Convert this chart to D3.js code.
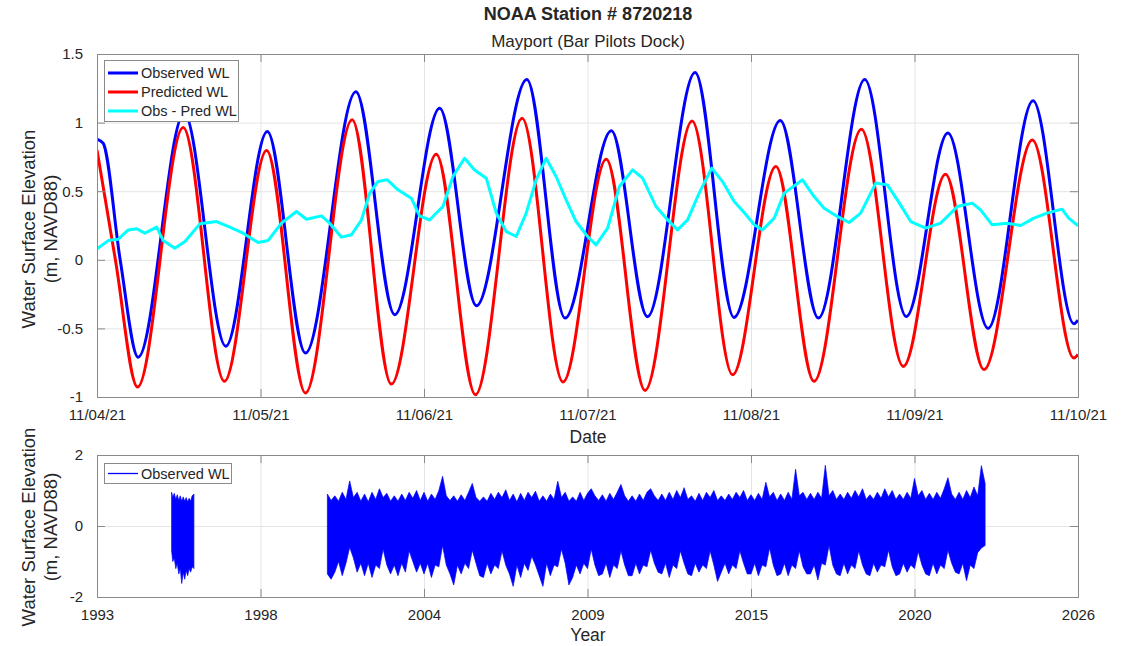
<!DOCTYPE html>
<html><head><meta charset="utf-8">
<script src="https://cdn.jsdelivr.net/npm/d3@7"></script>
<style>
body{margin:0;background:#fff}
svg{display:block}
text{font-family:"Liberation Sans",Arial,Helvetica,sans-serif;fill:#262626}
</style>
</head><body>
<svg id="c" width="1133" height="646"></svg>
<script>
// ---------------- DATA ----------------
// Top panel: hours since 11/04/21 00:00
const obsHours  = [0, 0.9, 3.4, 6.05, 12.8, 18.9, 25.0, 30.6, 38.0, 43.7, 50.3, 55.7, 63.1, 68.7, 75.5, 80.8, 87.8, 93.5, 100.3, 105.9, 112.7, 118.8, 124.9, 130.8, 137.4, 143.4, 144];
const obsValues = [0.88, 0.85, 0.0, -0.71, 1.07, -0.63, 0.935, -0.68, 1.225, -0.40, 1.105, -0.335, 1.315, -0.425, 0.94, -0.415, 1.365, -0.42, 1.015, -0.425, 1.315, -0.413, 0.925, -0.50, 1.16, -0.466, -0.44];

const predHours  = [0, 2.7, 5.95, 12.65, 18.7, 24.9, 30.6, 37.45, 43.2, 49.8, 55.55, 62.4, 68.4, 74.75, 80.45, 87.35, 93.3, 99.65, 105.25, 112.2, 118.35, 124.55, 130.2, 137.3, 143.4, 144];
const predValues = [0.80, 0.0, -0.927, 0.964, -0.886, 0.796, -0.971, 1.02, -0.906, 0.77, -0.983, 1.032, -0.891, 0.733, -0.952, 1.012, -0.838, 0.68, -0.886, 0.952, -0.777, 0.624, -0.80, 0.874, -0.716, -0.69];

const resHours  = [0, 1.66, 3.12, 4.58, 5.81, 7.03, 8.76, 9.72, 11.42, 12.91, 15.1, 17.54, 19.25, 21.46, 23.64, 25.13, 27.07, 29.28, 30.74, 32.95, 34.15, 35.88, 37.34, 38.81, 40.03, 41.23, 42.62, 44.18, 46.13, 47.35, 48.82, 49.56, 50.78, 52.25, 53.95, 55.42, 57.14, 58.61, 60.07, 61.54, 63.0, 64.46, 65.93, 67.39, 68.86, 70.32, 72.02, 73.25, 74.95, 76.68, 78.62, 80.09, 82.06, 83.52, 85.22, 86.69, 88.39, 90.24, 91.82, 93.53, 94.99, 96.48, 97.68, 99.41, 100.87, 103.56, 105.26, 106.73, 108.67, 110.4, 112.1, 114.31, 116.02, 117.48, 119.45, 121.63, 123.84, 126.29, 128.47, 129.7, 131.4, 133.61, 135.58, 137.52, 139.46, 141.65, 142.63, 144];
const resValues = [0.08, 0.14, 0.15, 0.218, 0.226, 0.194, 0.238, 0.14, 0.085, 0.133, 0.262, 0.279, 0.243, 0.194, 0.126, 0.141, 0.267, 0.352, 0.296, 0.32, 0.267, 0.165, 0.182, 0.29, 0.486, 0.57, 0.583, 0.51, 0.449, 0.32, 0.29, 0.328, 0.388, 0.607, 0.74, 0.655, 0.595, 0.34, 0.206, 0.17, 0.34, 0.583, 0.74, 0.607, 0.437, 0.279, 0.17, 0.109, 0.231, 0.534, 0.655, 0.595, 0.388, 0.304, 0.218, 0.291, 0.486, 0.668, 0.57, 0.425, 0.345, 0.255, 0.218, 0.304, 0.486, 0.583, 0.461, 0.376, 0.316, 0.272, 0.34, 0.559, 0.546, 0.437, 0.279, 0.231, 0.267, 0.388, 0.413, 0.364, 0.255, 0.267, 0.25, 0.304, 0.34, 0.369, 0.304, 0.248];

const topYTicks = [-1, -0.5, 0, 0.5, 1, 1.5];
const topYLabels = ["-1", "-0.5", "0", "0.5", "1", "1.5"];
const legendTop = ["Observed WL", "Predicted WL", "Obs - Pred WL"];

// Bottom panel: long record envelope of observed WL (decimal years)
const seg1Years = [1995.51, 1995.55, 1995.60, 1995.65, 1995.70, 1995.75, 1995.80, 1995.85, 1995.90, 1995.95, 1996.00, 1996.05, 1996.10, 1996.15, 1996.20, 1996.26];
const seg1Upper = [0.95, 0.80, 0.92, 0.75, 0.88, 0.72, 0.85, 0.70, 0.82, 0.70, 0.80, 0.68, 0.78, 0.70, 0.85, 0.90];
const seg1Lower = [-0.70, -1.00, -0.90, -1.20, -1.05, -1.35, -1.20, -1.62, -1.30, -1.50, -1.25, -1.40, -1.20, -1.30, -1.15, -1.20];

const seg2Start = 2000.75, seg2Step = 0.125;
const seg2Upper = [
 0.90, 0.72,
 0.85, 0.70, 0.95, 0.75, 1.27, 0.80, 0.95, 0.70,
 0.90, 0.68, 0.95, 0.75, 1.05, 0.80, 0.92, 0.70,
 0.85, 0.70, 0.90, 0.72, 0.95, 0.78, 1.00, 0.72,
 0.95, 0.70, 0.90, 0.75, 1.00, 1.40, 0.85, 0.72,
 0.85, 0.70, 0.88, 0.72, 0.95, 1.20, 0.80, 0.70,
 0.82, 0.70, 0.92, 0.75, 0.95, 0.80, 1.02, 0.72,
 0.90, 0.68, 0.92, 0.72, 0.95, 0.80, 0.98, 0.70,
 0.85, 0.70, 0.90, 0.75, 1.26, 0.80, 0.95, 0.70,
 0.82, 0.70, 0.95, 0.72, 0.92, 1.05, 0.85, 0.72,
 0.88, 0.70, 0.92, 0.75, 0.95, 1.17, 0.85, 0.70,
 0.85, 0.70, 0.90, 0.72, 0.95, 1.05, 0.85, 0.72,
 0.90, 0.72, 0.95, 0.75, 1.00, 0.80, 1.08, 0.75,
 0.85, 0.70, 0.92, 0.72, 0.95, 0.80, 1.00, 0.72,
 0.85, 0.72, 0.90, 0.75, 0.95, 0.80, 1.00, 0.72,
 0.88, 0.72, 0.92, 0.75, 1.23, 0.82, 0.95, 0.72,
 0.90, 0.72, 0.95, 0.75, 1.60, 0.85, 0.95, 0.75,
 0.92, 0.75, 0.95, 0.78, 1.71, 0.85, 1.00, 0.75,
 0.90, 0.75, 0.95, 0.78, 1.00, 0.82, 1.05, 0.75,
 0.88, 0.75, 0.95, 0.78, 1.05, 0.82, 1.00, 0.75,
 0.90, 0.75, 0.95, 0.78, 1.34, 0.85, 1.00, 0.75,
 0.92, 0.75, 0.95, 0.78, 1.05, 1.36, 0.90, 0.75,
 0.95, 0.75, 1.00, 0.80, 1.10, 0.85, 1.70, 1.20];
const seg2Lower = [
 -1.35, -1.50,
 -1.30, -1.00, -1.40, -1.05, -0.60, -0.90, -1.30, -1.05,
 -1.40, -1.05, -1.45, -1.10, -1.20, -0.65, -1.10, -1.35,
 -1.10, -1.40, -1.05, -1.30, -0.70, -1.00, -1.30, -1.05,
 -1.35, -1.05, -1.45, -1.10, -1.15, -0.55, -1.10, -1.35,
 -1.66, -1.10, -1.35, -1.05, -1.20, -0.68, -1.05, -1.40,
 -1.45, -1.05, -1.35, -1.10, -1.20, -0.70, -1.10, -1.35,
 -1.70, -1.10, -1.45, -1.05, -1.25, -0.85, -1.10, -1.40,
 -1.70, -1.05, -1.40, -1.10, -1.15, -0.65, -1.05, -1.66,
 -1.45, -1.10, -1.35, -1.05, -1.20, -0.65, -1.10, -1.40,
 -1.35, -1.05, -1.45, -1.10, -1.20, -0.70, -1.10, -1.40,
 -1.40, -1.05, -1.35, -1.10, -1.15, -0.68, -1.05, -1.30,
 -1.35, -1.05, -1.45, -1.10, -1.20, -0.70, -1.05, -1.35,
 -1.40, -1.05, -1.30, -1.10, -1.20, -0.70, -1.10, -1.56,
 -1.30, -1.05, -1.35, -1.10, -1.20, -0.70, -1.05, -1.35,
 -1.35, -1.05, -1.40, -1.10, -1.15, -0.62, -1.10, -1.40,
 -1.35, -1.05, -1.40, -1.10, -1.20, -0.70, -1.15, -1.35,
 -1.35, -1.10, -1.52, -1.05, -1.10, -0.55, -1.10, -1.35,
 -1.40, -1.05, -1.35, -1.10, -1.20, -0.70, -1.10, -1.35,
 -1.40, -1.05, -1.30, -1.10, -1.15, -0.68, -1.15, -1.40,
 -1.35, -1.05, -1.30, -1.10, -1.20, -0.72, -1.10, -1.35,
 -1.40, -1.05, -1.35, -1.10, -1.20, -0.68, -1.05, -1.30,
 -1.35, -1.05, -1.54, -1.10, -1.20, -0.75, -0.62, -0.55];

const botXTicks = [1993, 1998.5, 2004, 2009.5, 2015, 2020.5, 2026];
const botXLabels = ["1993", "1998", "2004", "2009", "2015", "2020", "2026"];
const botYTicks = [-2, 0, 2];
const botYLabels = ["-2", "0", "2"];

// ---------------- DRAW ----------------
const svg = d3.select('#c');
const P1 = {l: 97, r: 1078, t: 54, b: 397};
const P2 = {l: 97, r: 1078, t: 455, b: 597};
const FRAME = '#8a8a8a', GRID = '#e4e4e4', TXT = '#262626';
const t0 = new Date(2021, 10, 4, 0, 0, 0);
const hToDate = h => new Date(t0.getTime() + h * 3600e3);

const x1 = d3.scaleTime().domain([t0, new Date(2021, 10, 10)]).range([P1.l, P1.r]);
const y1 = d3.scaleLinear().domain([-1, 1.5]).range([P1.b, P1.t]);
const x2 = d3.scaleLinear().domain([1993, 2026]).range([P2.l, P2.r]);
const y2 = d3.scaleLinear().domain([-2, 2]).range([P2.b, P2.t]);

const defs = svg.append('defs');
defs.append('clipPath').attr('id', 'clip1').append('rect')
  .attr('x', P1.l).attr('y', P1.t).attr('width', P1.r - P1.l).attr('height', P1.b - P1.t);
defs.append('clipPath').attr('id', 'clip2').append('rect')
  .attr('x', P2.l).attr('y', P2.t).attr('width', P2.r - P2.l).attr('height', P2.b - P2.t);

function axesGrid(P, xs, ys, xTicks, yTicks) {
  const g = svg.append('g');
  g.append('g').call(d3.axisBottom(xs).tickValues(xTicks).tickSize(-(P.b - P.t)).tickFormat(''))
    .attr('transform', `translate(0,${P.b})`)
    .call(a => { a.select('.domain').remove(); a.selectAll('line').attr('stroke', GRID); });
  g.append('g').call(d3.axisLeft(ys).tickValues(yTicks).tickSize(-(P.r - P.l)).tickFormat(''))
    .attr('transform', `translate(${P.l},0)`)
    .call(a => { a.select('.domain').remove(); a.selectAll('line').attr('stroke', GRID); });
  return g;
}

function axesOverlay(P, xs, ys, xTicks, yTicks, xfmt, yfmt) {
  const g = svg.append('g');
  const tl = 8;
  const fs = '15px';
  g.append('g').attr('transform', `translate(0,${P.b})`)
    .call(d3.axisBottom(xs).tickValues(xTicks).tickSizeInner(-tl).tickSizeOuter(0).tickPadding(12).tickFormat(xfmt))
    .call(a => { a.select('.domain').remove(); a.selectAll('line').attr('stroke', FRAME);
      a.selectAll('text').attr('fill', TXT).style('font-size', fs).style('font-family', '"Liberation Sans",Arial,sans-serif'); });
  g.append('g').attr('transform', `translate(0,${P.t})`)
    .call(d3.axisTop(xs).tickValues(xTicks).tickSizeInner(-tl).tickSizeOuter(0).tickFormat(''))
    .call(a => { a.select('.domain').remove(); a.selectAll('line').attr('stroke', FRAME); });
  g.append('g').attr('transform', `translate(${P.l},0)`)
    .call(d3.axisLeft(ys).tickValues(yTicks).tickSizeInner(-tl).tickSizeOuter(0).tickPadding(14).tickFormat(yfmt))
    .call(a => { a.select('.domain').remove(); a.selectAll('line').attr('stroke', FRAME);
      a.selectAll('text').attr('fill', TXT).style('font-size', fs).style('font-family', '"Liberation Sans",Arial,sans-serif'); });
  g.append('g').attr('transform', `translate(${P.r},0)`)
    .call(d3.axisRight(ys).tickValues(yTicks).tickSizeInner(-tl).tickSizeOuter(0).tickFormat(''))
    .call(a => { a.select('.domain').remove(); a.selectAll('line').attr('stroke', FRAME); });
  g.append('rect').attr('x', P.l).attr('y', P.t).attr('width', P.r - P.l).attr('height', P.b - P.t)
    .attr('fill', 'none').attr('stroke', FRAME).attr('stroke-width', 1).attr('shape-rendering', 'crispEdges');
  return g;
}

// ---- top panel ----
const dayTicks = x1.ticks(d3.timeDay.every(1));
axesGrid(P1, x1, y1, dayTicks, topYTicks);
const lineT = d3.line().x(d => x1(hToDate(d[0]))).y(d => y1(d[1]));
const gData1 = svg.append('g').attr('clip-path', 'url(#clip1)');
gData1.append('path').datum(d3.zip(obsHours, obsValues))
  .attr('d', lineT.curve(d3.curveMonotoneX)).attr('fill', 'none').attr('stroke', '#0000ff').attr('stroke-width', 3).attr('stroke-linejoin', 'round');
gData1.append('path').datum(d3.zip(predHours, predValues))
  .attr('d', lineT.curve(d3.curveMonotoneX)).attr('fill', 'none').attr('stroke', '#ff0000').attr('stroke-width', 3).attr('stroke-linejoin', 'round');
gData1.append('path').datum(d3.zip(resHours, resValues))
  .attr('d', lineT.curve(d3.curveLinear)).attr('fill', 'none').attr('stroke', '#00ffff').attr('stroke-width', 3).attr('stroke-linejoin', 'round');

axesOverlay(P1, x1, y1, dayTicks, topYTicks,
  d3.timeFormat('%m/%d/%y'), (d) => topYLabels[topYTicks.indexOf(d)]);

// legend top
{
  const g = svg.append('g');
  g.append('rect').attr('x', 104.5).attr('y', 60.5).attr('width', 134).attr('height', 61)
    .attr('fill', '#fff').attr('stroke', FRAME).attr('stroke-width', 1);
  const cols = ['#0000ff', '#ff0000', '#00ffff'];
  legendTop.forEach((name, i) => {
    const yy = 73 + i * 19;
    g.append('line').attr('x1', 108).attr('x2', 138).attr('y1', yy).attr('y2', yy)
      .attr('stroke', cols[i]).attr('stroke-width', 3);
    g.append('text').attr('x', 141).attr('y', yy).attr('dy', '0.35em').style('font-size', '14.5px').text(name);
  });
}

// titles & labels
svg.append('text').attr('x', 588).attr('y', 20).attr('text-anchor', 'middle')
  .style('font-size', '18px').style('font-weight', 'bold').text('NOAA Station # 8720218');
svg.append('text').attr('x', 588).attr('y', 47).attr('text-anchor', 'middle')
  .style('font-size', '17px').text('Mayport (Bar Pilots Dock)');
svg.append('text').attr('x', 588).attr('y', 443).attr('text-anchor', 'middle')
  .style('font-size', '17.5px').text('Date');
svg.append('text').attr('x', 588).attr('y', 641).attr('text-anchor', 'middle')
  .style('font-size', '17.5px').text('Year');

function yLabel(cy) {
  const g = svg.append('g').attr('transform', `translate(0,${cy}) rotate(-90)`);
  g.append('text').attr('x', 0).attr('y', 35).attr('text-anchor', 'middle').style('font-size', '18.5px').text('Water Surface Elevation');
  g.append('text').attr('x', 0).attr('y', 57).attr('text-anchor', 'middle').style('font-size', '18.5px').text('(m, NAVD88)');
}
yLabel(229);
yLabel(527);

// ---- bottom panel ----
axesGrid(P2, x2, y2, botXTicks, botYTicks);
const gData2 = svg.append('g').attr('clip-path', 'url(#clip2)');
const areaB = d3.area().x(d => x2(d[0])).y0(d => y2(d[2])).y1(d => y2(d[1])).curve(d3.curveLinear);
const seg2Years = d3.range(seg2Upper.length).map(i => seg2Start + i * seg2Step);
[d3.zip(seg1Years, seg1Upper, seg1Lower), d3.zip(seg2Years, seg2Upper, seg2Lower)].forEach(seg => {
  gData2.append('path').datum(seg).attr('d', areaB)
    .attr('fill', '#0000ff').attr('stroke', '#0000ff').attr('stroke-width', 0.7).attr('stroke-linejoin', 'miter');
});
axesOverlay(P2, x2, y2, botXTicks, botYTicks,
  d => botXLabels[botXTicks.indexOf(d)], d => botYLabels[botYTicks.indexOf(d)]);

// legend bottom
{
  const g = svg.append('g');
  g.append('rect').attr('x', 104.5).attr('y', 463.5).attr('width', 127).attr('height', 20)
    .attr('fill', '#fff').attr('stroke', FRAME).attr('stroke-width', 1);
  g.append('line').attr('x1', 108).attr('x2', 138).attr('y1', 473.5).attr('y2', 473.5)
    .attr('stroke', '#0000ff').attr('stroke-width', 1.3);
  g.append('text').attr('x', 141).attr('y', 473.5).attr('dy', '0.35em').style('font-size', '14.5px').text('Observed WL');
}
</script>
</body></html>
